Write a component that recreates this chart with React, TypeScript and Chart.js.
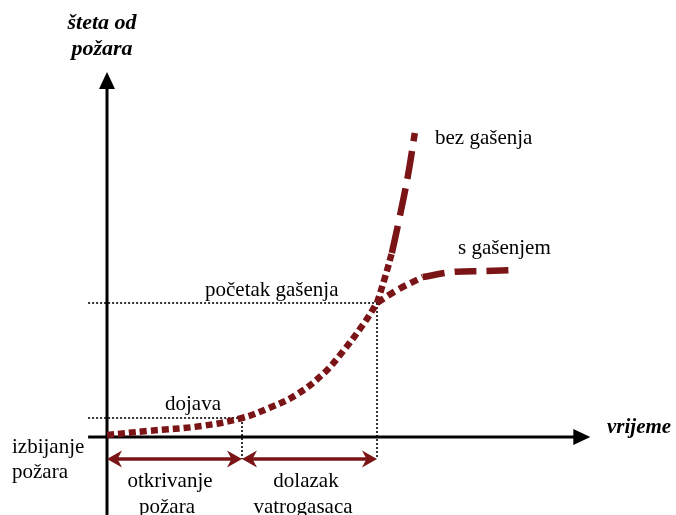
import React, { useEffect, useRef } from "react";
import { Chart, registerables } from "chart.js";

Chart.register(...registerables);

// ---- data (time units on x, damage units on y) ----
const mainTime = [0, 3, 7, 10, 12, 14, 16, 17.5, 19, 20];
const mainDamage = [0.2, 0.6, 1.1, 1.9, 2.9, 4.2, 6.3, 8.6, 11.3, 13.4];

const noExtTime = [20, 20.6, 21.1, 21.6, 22.3, 22.8];
const noExtDamage = [13.4, 16.0, 18.4, 21.5, 26.2, 30.4];

const withExtTime = [20, 21.5, 23.4, 25.6, 28.1, 30.3];
const withExtDamage = [13.4, 14.7, 16.0, 16.5, 16.6, 16.7];

const alarmTime = 10;
const alarmDamage = 1.9;
const extStartTime = 20;
const extStartDamage = 13.4;
const phaseBounds = [0, alarmTime, extStartTime];
const phaseLevel = -2.2;
const guideStartTime = -1.4;

const axisXRange = [-1.4, 35.8];
const axisYRange = [-7.8, 36.5];

const viewX = [-7.926, 42.148];
const viewY = [-7.8, 43.7];

// ---- styles ----
const RED = "#7a1416";
const SERIF = '"Liberation Serif", "Times New Roman", serif';

const toPts = (xs: number[], ys: number[], from = 0, to = xs.length) =>
  xs.slice(from, to).map((x, i) => ({ x, y: ys[from + i] }));

function head(ctx: CanvasRenderingContext2D, x: number, y: number, ang: number, len: number, half: number) {
  const c = Math.cos(ang), s = Math.sin(ang);
  const bx = x - len * c, by = y - len * s;
  const nx = x - len * 0.7 * c, ny = y - len * 0.7 * s;
  ctx.beginPath();
  ctx.moveTo(x, y);
  ctx.lineTo(bx + half * s, by - half * c);
  ctx.lineTo(nx, ny);
  ctx.lineTo(bx - half * s, by + half * c);
  ctx.closePath();
  ctx.fill();
}

function solidHead(ctx: CanvasRenderingContext2D, x: number, y: number, ang: number, len: number, half: number) {
  const c = Math.cos(ang), s = Math.sin(ang);
  const bx = x - len * c, by = y - len * s;
  ctx.beginPath();
  ctx.moveTo(x, y);
  ctx.lineTo(bx + half * s, by - half * c);
  ctx.lineTo(bx - half * s, by + half * c);
  ctx.closePath();
  ctx.fill();
}

const labels: { text: string; x: number; y: number; align: CanvasTextAlign; font: string }[] = [
  { text: "šteta od", x: 102, y: 29, align: "center", font: `italic bold 22px ${SERIF}` },
  { text: "požara", x: 102, y: 55, align: "center", font: `italic bold 22px ${SERIF}` },
  { text: "vrijeme", x: 607, y: 433, align: "left", font: `italic bold 21px ${SERIF}` },
  { text: "bez gašenja", x: 435, y: 144, align: "left", font: `21px ${SERIF}` },
  { text: "s gašenjem", x: 458, y: 254, align: "left", font: `21px ${SERIF}` },
  { text: "početak gašenja", x: 205, y: 296, align: "left", font: `21px ${SERIF}` },
  { text: "dojava", x: 165, y: 410, align: "left", font: `21px ${SERIF}` },
  { text: "izbijanje", x: 12, y: 453, align: "left", font: `21px ${SERIF}` },
  { text: "požara", x: 12, y: 478, align: "left", font: `21px ${SERIF}` },
  { text: "otkrivanje", x: 170, y: 487, align: "center", font: `21px ${SERIF}` },
  { text: "požara", x: 167, y: 513, align: "center", font: `21px ${SERIF}` },
  { text: "dolazak", x: 306, y: 487, align: "center", font: `21px ${SERIF}` },
  { text: "vatrogasaca", x: 303, y: 513, align: "center", font: `21px ${SERIF}` },
];

const overlay = {
  id: "overlay",
  beforeDatasetsDraw(chart: any) {
    const { ctx, scales } = chart;
    const px = (v: number) => scales.x.getPixelForValue(v);
    const py = (v: number) => scales.y.getPixelForValue(v);
    ctx.save();
    ctx.strokeStyle = "#000";
    ctx.fillStyle = "#000";
    ctx.lineWidth = 3;
    const y0 = py(0);
    ctx.beginPath();
    ctx.moveTo(px(axisXRange[0]), y0);
    ctx.lineTo(px(axisXRange[1]) - 12, y0);
    ctx.stroke();
    solidHead(ctx, px(axisXRange[1]), y0, 0, 17, 8);
    const x0 = px(0);
    ctx.beginPath();
    ctx.moveTo(x0, py(axisYRange[0]));
    ctx.lineTo(x0, py(axisYRange[1]) + 12);
    ctx.stroke();
    solidHead(ctx, x0, py(axisYRange[1]), -Math.PI / 2, 17, 8);
    ctx.restore();
  },
  afterDatasetsDraw(chart: any) {
    const { ctx, scales } = chart;
    const px = (v: number) => scales.x.getPixelForValue(v);
    const py = (v: number) => scales.y.getPixelForValue(v);
    ctx.save();
    ctx.strokeStyle = RED;
    ctx.fillStyle = RED;
    ctx.lineWidth = 3.5;
    const ay = py(phaseLevel);
    for (let i = 0; i < phaseBounds.length - 1; i++) {
      const a = px(phaseBounds[i]);
      const b = px(phaseBounds[i + 1]);
      ctx.beginPath();
      ctx.moveTo(a + 8, ay);
      ctx.lineTo(b - 8, ay);
      ctx.stroke();
      head(ctx, a, ay, Math.PI, 15, 8.5);
      head(ctx, b, ay, 0, 15, 8.5);
    }
    ctx.fillStyle = "#000";
    ctx.textBaseline = "alphabetic";
    for (const l of labels) {
      ctx.font = l.font;
      ctx.textAlign = l.align;
      ctx.fillText(l.text, l.x, l.y);
    }
    ctx.restore();
  },
};

export default function App() {
  const ref = useRef<HTMLCanvasElement | null>(null);
  useEffect(() => {
    if (!ref.current) return;
    const guide = (pts: { x: number; y: number }[]) => ({
      data: pts,
      borderColor: "#000",
      borderWidth: 1.6,
      borderDash: [2, 2],
      pointRadius: 0,
      tension: 0,
      order: 5,
    });
    const curve = (pts: { x: number; y: number }[], dash: number[], tension = 0.4) => ({
      data: pts,
      borderColor: RED,
      borderWidth: 6.5,
      borderDash: dash,
      borderCapStyle: "butt" as const,
      pointRadius: 0,
      tension,
      order: 1,
    });
    const chart = new Chart(ref.current, {
      type: "line",
      data: {
        datasets: [
          curve(toPts(mainTime, mainDamage), [7, 4]),
          curve(toPts(noExtTime, noExtDamage, 0, 3), [7, 4]),
          curve(toPts(noExtTime, noExtDamage, 2), [28, 10]),
          curve(toPts(withExtTime, withExtDamage, 0, 3), [8, 5]),
          curve(toPts(withExtTime, withExtDamage, 2), [22, 10]),
          guide([{ x: guideStartTime, y: alarmDamage }, { x: alarmTime, y: alarmDamage }]),
          guide([{ x: alarmTime, y: alarmDamage }, { x: alarmTime, y: phaseLevel }]),
          guide([{ x: guideStartTime, y: extStartDamage }, { x: extStartTime, y: extStartDamage }]),
          guide([{ x: extStartTime, y: extStartDamage }, { x: extStartTime, y: phaseLevel }]),
        ] as any,
      },
      options: {
        animation: false,
        responsive: false,
        devicePixelRatio: 1,
        layout: { padding: 0 },
        plugins: { legend: { display: false }, tooltip: { enabled: false } },
        scales: {
          x: { type: "linear", min: viewX[0], max: viewX[1], display: false },
          y: { type: "linear", min: viewY[0], max: viewY[1], display: false },
        },
      },
      plugins: [overlay],
    });
    return () => chart.destroy();
  }, []);
  return (
    <div style={{ position: "absolute", left: 0, top: 0, width: 676, height: 515, background: "#fff" }}>
      <canvas ref={ref} width={676} height={515} style={{ display: "block" }} />
    </div>
  );
}
